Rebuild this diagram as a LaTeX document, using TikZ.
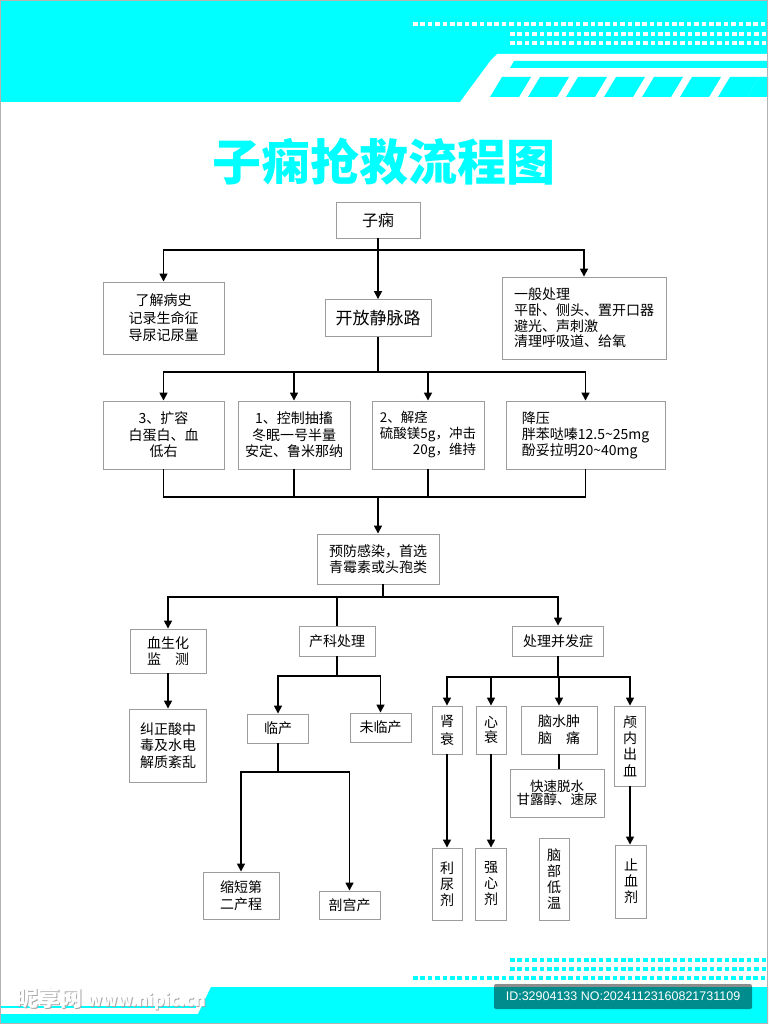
\documentclass[tikz,border=0pt]{standalone}
\usepackage{fontspec}
\setmainfont{Noto Sans CJK SC}
\newfontfamily\idfont{Liberation Sans}
\usetikzlibrary{arrows.meta}
\definecolor{cy}{HTML}{00FFFF}
\definecolor{boxgray}{HTML}{9C9C9C}
\begin{document}
\begin{tikzpicture}[x=1pt,y=-1pt,
  bx/.style={draw=boxgray,line width=0.9pt,fill=white,inner sep=0pt,align=center,font=\fontsize{14}{16.5}\selectfont},
  con/.style={line width=1.6pt,black},
  arr/.style={con,-{Triangle[length=8pt,width=8pt]}}]
\useasboundingbox (0,0) rectangle (768,1024);
\fill[white] (0,0) rectangle (768,1024);
% header
\fill[cy] (0,0) rectangle (768,102);
\fill[white] (460,102) -- (491,60) -- (497,54) -- (768,54) -- (768,102) -- cycle;
\fill[cy] (514,61) -- (768,61) -- (768,68) -- (510,68) -- cycle;
\begin{scope}
\clip (0,0) rectangle (768,102);
\foreach \xx in {502,540,578,616,654,692,730,759}
  \fill[cy] (\xx,77) -- ({\xx+29},77) -- ({\xx+17},97) -- ({\xx-12},97) -- cycle;
\end{scope}
\foreach \i in {0,...,47} \fill[white] ({413+7.4*\i},22) rectangle ++(4.6,4.4);
\foreach \i in {0,...,34} \fill[white] ({510+7.4*\i},32) rectangle ++(4.6,4.4);
\foreach \i in {0,...,34} \fill[white] ({510+7.4*\i},41) rectangle ++(4.6,4.4);
% footer
\foreach \i in {0,...,34} \fill[cy] ({510+7.4*\i},958) rectangle ++(4.6,4.4);
\foreach \i in {0,...,34} \fill[cy] ({510+7.4*\i},967) rectangle ++(4.6,4.4);
\foreach \i in {0,...,47} \fill[cy] ({413+7.4*\i},976) rectangle ++(4.6,4.4);
\fill[cy] (211,987) -- (768,987) -- (768,1024) -- (0,1024) -- (0,1014) -- (198,1014) -- cycle;
\fill[cy] (0,1006) rectangle (196,1008);
\fill[black,opacity=0.45,rounded corners=2pt] (494,984) rectangle (752,1009);
\node[text=white,font=\idfont\fontsize{12.5}{14}\selectfont,inner sep=0pt] (idtxt) at (623,996.5) {ID:32904133 NO:20241123160821731109};
\node[text=gray!70,font=\fontsize{22}{24}\selectfont\bfseries,inner sep=0pt,anchor=west] (wm1s) at (16.8,999.8) {昵享网 \fontsize{17}{20}\selectfont www.nipic.cn};
\node[text=white,font=\fontsize{22}{24}\selectfont\bfseries,inner sep=0pt,anchor=west] (wm1) at (16,999) {昵享网 \fontsize{17}{20}\selectfont www.nipic.cn};
% title
\node[text=cy,font=\fontsize{49}{50}\selectfont\bfseries,inner sep=0pt] (title) at (384,162) {子痫抢救流程图};
% nodes
\node[bx,minimum width=84pt,minimum height=36pt,font=\fontsize{16}{18}\selectfont] (root) at (378,220) {子痫};
\node[bx,minimum width=121pt,minimum height=72pt,font=\fontsize{14}{17.5}\selectfont] (hist) at (163.5,318) {了解病史\\记录生命征\\导尿记尿量};
\node[bx,minimum width=106pt,minimum height=37pt,font=\fontsize{17}{20}\selectfont] (iv) at (378,318) {开放静脉路};
\node[bx,minimum width=164pt,minimum height=82pt,align=left,font=\fontsize{14}{15.7}\selectfont] (gen) at (584,318) {一般处理\\平卧、侧头、置开口器\\避光、声刺激\\清理呼吸道、给氧};
\node[bx,minimum width=121pt,minimum height=68pt] (l3a) at (163.5,435) {3、扩容\\白蛋白、血\\低右};
\node[bx,minimum width=112pt,minimum height=68pt] (l3b) at (294,435) {1、控制抽搐\\冬眠一号半量\\安定、鲁米那纳};
\node[bx,minimum width=112pt,minimum height=68pt,font=\fontsize{13.5}{16}\selectfont] (l3c) at (428,435) {\begin{tabular}{@{}l@{}}2、解痉\\硫酸镁5g，冲击\\\multicolumn{1}{@{}r@{}}{20g，维持}\end{tabular}};
\node[bx,minimum width=159pt,minimum height=68pt,align=left,font=\fontsize{14}{16}\selectfont] (l3d) at (585.5,435) {降压\\胖苯哒嗪12.5\textasciitilde25mg\\酚妥拉明20\textasciitilde40mg};
\node[bx,minimum width=122pt,minimum height=50pt,font=\fontsize{14}{16}\selectfont] (prev) at (378,559) {预防感染，首选\\青霉素或头孢类};
\node[bx,minimum width=76pt,minimum height=44pt] (blood) at (168,651) {血生化\\监　测};
\node[bx,minimum width=76pt,minimum height=30pt] (obst) at (337,641) {产科处理};
\node[bx,minimum width=91pt,minimum height=30pt] (comp) at (558,641) {处理并发症};
\node[bx,minimum width=77pt,minimum height=73pt,font=\fontsize{14}{16.7}\selectfont] (corr) at (168,745.5) {纠正酸中\\毒及水电\\解质紊乱};
\node[bx,minimum width=61pt,minimum height=29pt] (lab) at (278,728.5) {临产};
\node[bx,minimum width=61pt,minimum height=29pt] (nolab) at (380.5,727.5) {未临产};
\node[bx,minimum width=76pt,minimum height=47pt] (short) at (241,895.5) {缩短第\\二产程};
\node[bx,minimum width=61pt,minimum height=28pt] (cs) at (349.5,905) {剖宫产};
\node[bx,minimum width=30pt,minimum height=48pt,font=\fontsize{14}{18}\selectfont] (renal) at (447,730) {肾\\衰};
\node[bx,minimum width=30pt,minimum height=48pt,font=\fontsize{14}{15}\selectfont] (heart) at (491,730) {心\\衰};
\node[bx,minimum width=76pt,minimum height=48pt,font=\fontsize{14}{17}\selectfont] (brain) at (559,730) {脑水肿\\脑　痛};
\node[bx,minimum width=94pt,minimum height=48pt,font=\fontsize{13.5}{13.5}\selectfont] (dehyd) at (557,793) {快速脱水\\甘露醇、速尿};
\node[bx,minimum width=31pt,minimum height=80pt,font=\fontsize{14}{16.3}\selectfont] (ich) at (630,746) {颅\\内\\出\\血};
\node[bx,minimum width=30pt,minimum height=72pt,font=\fontsize{14}{16}\selectfont] (diur) at (447,884) {利\\尿\\剂};
\node[bx,minimum width=31pt,minimum height=72pt,font=\fontsize{14}{16}\selectfont] (inotr) at (491,884) {强\\心\\剂};
\node[bx,minimum width=30pt,minimum height=82pt,font=\fontsize{14}{16.3}\selectfont] (cool) at (554,879) {脑\\部\\低\\温};
\node[bx,minimum width=31pt,minimum height=73pt,font=\fontsize{14}{16}\selectfont] (hemo) at (631,881.5) {止\\血\\剂};
% coordinates
\coordinate (b1) at (378,250);
\coordinate (b2) at (378,372);
\coordinate (b3) at (378,497);
\coordinate (b4) at (383,597);
\coordinate (b5) at (337,676);
\coordinate (b6) at (278,772);
\coordinate (b7) at (558,677);
% connectors
\draw[arr] (root.south) -- (iv.north);
\draw[arr] (b1) -| (hist.north);
\draw[arr] (b1) -| (gen.north);
\draw[con] (iv.south) -- (b2);
\draw[arr] (b2) -| (l3a.north);
\draw[arr] (b2) -| (l3b.north);
\draw[arr] (b2) -| (l3c.north);
\draw[arr] (b2) -| (l3d.north);
\draw[con] (l3a.south) |- (b3);
\draw[con] (l3b.south) |- (b3);
\draw[con] (l3c.south) |- (b3);
\draw[con] (l3d.south) |- (b3);
\draw[arr] (b3) -- (prev.north);
\draw[con] (prev.south -| b4) -- (b4);
\draw[arr] (b4) -| (blood.north);
\draw[con] (b4) -| (obst.north);
\draw[arr] (b4) -| (comp.north);
\draw[arr] (blood.south) -- (corr.north);
\draw[con] (obst.south) -- (b5);
\draw[arr] (b5) -| (lab.north);
\draw[arr] (b5) -| (nolab.north);
\draw[con] (lab.south) -- (b6);
\draw[arr] (b6) -| (short.north);
\draw[arr] (b6) -| (cs.north);
\draw[con] (comp.south) -- (b7);
\draw[arr] (b7) -| (renal.north);
\draw[arr] (b7) -| (heart.north);
\draw[arr] (b7) -| (brain.north);
\draw[arr] (b7) -| (ich.north);
\draw[con] (brain.south) -- (brain.south |- dehyd.north);
\draw[arr] (renal.south) -- (diur.north);
\draw[arr] (heart.south) -- (inotr.north);
\draw[arr] (ich.south) -- (ich.south |- hemo.north);
\draw[gray!60,line width=0.8pt] (0.4,0.4) rectangle (767.6,1023.6);
\end{tikzpicture}
\end{document}
